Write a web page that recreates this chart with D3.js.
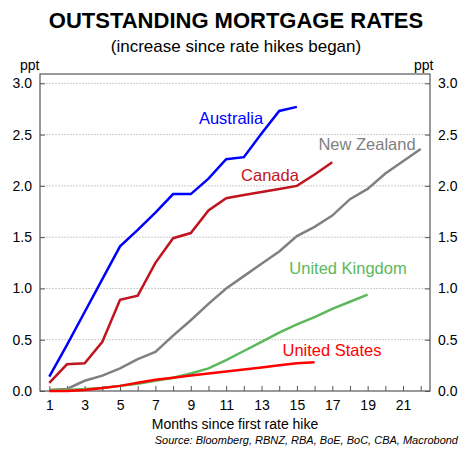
<!DOCTYPE html><html><head><meta charset="utf-8"><script src="https://cdn.jsdelivr.net/npm/d3@7"></script>
<style>body{margin:0;background:#fff}text{font-family:Arial,"Liberation Sans",sans-serif}</style></head><body><svg id="c" width="472" height="467"></svg>
<script>
const australia=[0.14,0.45,0.77,1.09,1.41,1.57,1.74,1.92,1.92,2.07,2.26,2.28,2.51,2.73,2.77];
const canada=[0.08,0.26,0.27,0.48,0.89,0.93,1.25,1.49,1.54,1.76,1.88,1.91,1.94,1.97,2.0,2.11,2.23];
const newZealand=[0.01,0.02,0.10,0.15,0.22,0.31,0.38,0.54,0.69,0.85,1.0,1.12,1.24,1.36,1.51,1.60,1.71,1.87,1.97,2.12,2.24,2.36];
const unitedKingdom=[0.01,0.01,0.02,0.03,0.05,0.07,0.10,0.13,0.17,0.22,0.30,0.39,0.48,0.57,0.65,0.72,0.80,0.87,0.94];
const unitedStates=[0,0,0.01,0.03,0.05,0.08,0.11,0.13,0.15,0.17,0.19,0.21,0.23,0.25,0.27,0.28];
const yTicks=[0,0.5,1,1.5,2,2.5,3];
const xTicks=[1,3,5,7,9,11,13,15,17,19,21];
const series=[
 {name:"Australia",data:australia,color:"#0000ff",lx:231,ly:124},
 {name:"Canada",data:canada,color:"#c0141e",lx:270,ly:181},
 {name:"New Zealand",data:newZealand,color:"#808080",lx:367,ly:150},
 {name:"United Kingdom",data:unitedKingdom,color:"#5cb85c",lx:348,ly:274},
 {name:"United States",data:unitedStates,color:"#ff0000",lx:332,ly:356}];
const svg=d3.select("#c");
const L=40,R=430,T=74,B=391;
const x=d3.scaleLinear().domain([1,22]).range([49.3,420.7]);
const y=d3.scaleLinear().domain([0,3]).range([B,83.3]);
svg.append("text").attr("x",236).attr("y",28).attr("text-anchor","middle").attr("font-size",22).attr("font-weight","bold").text("OUTSTANDING MORTGAGE RATES");
svg.append("text").attr("x",236).attr("y",52).attr("text-anchor","middle").attr("font-size",17).text("(increase since rate hikes began)");
const g=svg.append("g");
g.selectAll("line.gr").data(yTicks.slice(1)).join("line").attr("x1",L).attr("x2",R).attr("y1",d=>y(d)).attr("y2",d=>y(d)).attr("stroke","#ccc").attr("stroke-dasharray","2,1");
const la=svg.append("g").attr("transform",`translate(${L},0)`).call(d3.axisLeft(y).tickValues(yTicks).tickFormat(d3.format(".1f")).tickSize(-5).tickPadding(8));
const ra=svg.append("g").attr("transform",`translate(${R},0)`).call(d3.axisRight(y).tickValues(yTicks).tickFormat(d3.format(".1f")).tickSize(-5).tickPadding(8));
const xa=svg.append("g").attr("transform",`translate(0,${B})`).call(d3.axisBottom(x).tickValues(d3.range(1,23)).tickFormat(d=>xTicks.includes(d)?d:"").tickSize(-5).tickPadding(9));
[la,ra,xa].forEach(a=>{a.select(".domain").remove();a.selectAll("text").attr("font-size",14).attr("fill","#000");a.selectAll("line").attr("stroke","#555");});
svg.append("rect").attr("x",L).attr("y",T).attr("width",R-L).attr("height",B-T).attr("fill","none").attr("stroke","#555").attr("stroke-width",1.2);
svg.append("text").attr("x",20).attr("y",70).attr("font-size",14).text("ppt");
svg.append("text").attr("x",414).attr("y",70).attr("font-size",14).text("ppt");
const line=d3.line().x((d,i)=>x(i+1)).y(d=>y(d));
series.forEach(s=>{
 svg.append("path").datum(s.data).attr("d",line).attr("fill","none").attr("stroke",s.color).attr("stroke-width",2.5);
 svg.append("text").attr("x",s.lx).attr("y",s.ly).attr("text-anchor","middle").attr("font-size",16.5).attr("fill",s.color).text(s.name);
});
svg.append("text").attr("x",235).attr("y",429).attr("text-anchor","middle").attr("font-size",14).text("Months since first rate hike");
svg.append("text").attr("x",458).attr("y",444).attr("text-anchor","end").attr("font-size",11).attr("font-style","italic").text("Source: Bloomberg, RBNZ, RBA, BoE, BoC, CBA, Macrobond");
</script></body></html>
